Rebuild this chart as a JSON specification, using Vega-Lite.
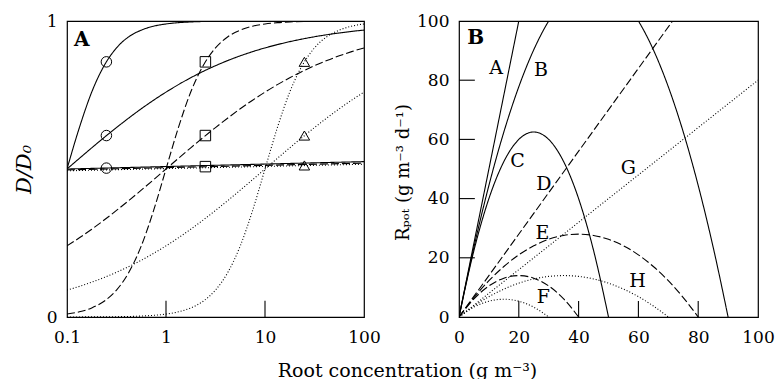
{
  "$schema": "https://vega.github.io/schema/vega-lite/v6.json",
  "padding": {"left": 12, "top": 11, "right": 0, "bottom": 0},
  "background": "white",
  "config": {
    "font": "DejaVu Serif",
    "view": {"stroke": "black", "strokeWidth": 1.2},
    "axis": {"grid": false, "domain": false, "ticks": false, "labelFont": "DejaVu Serif", "labelFontSize": 17, "labelColor": "black", "titleFont": "DejaVu Serif", "titleFontWeight": "normal", "titleColor": "black", "labelFlush": false, "labelOverlap": false},
    "axisX": {"labelPadding": 12},
    "axisY": {"labelPadding": 10}
  },
  "datasets": {
    "la": [
      {"x":0.1,"y":0.5,"c":"a2","s":"solid"},{"x":0.1334,"y":0.64,"c":"a2","s":"solid"},{"x":0.1778,"y":0.76,"c":"a2","s":"solid"},{"x":0.2371,"y":0.849,"c":"a2","s":"solid"},{"x":0.3162,"y":0.909,"c":"a2","s":"solid"},{"x":0.4217,"y":0.947,"c":"a2","s":"solid"},{"x":0.5623,"y":0.969,"c":"a2","s":"solid"},{"x":0.7499,"y":0.9825,"c":"a2","s":"solid"},{"x":1,"y":0.99,"c":"a2","s":"solid"},{"x":1.334,"y":0.9944,"c":"a2","s":"solid"},{"x":1.778,"y":0.9968,"c":"a2","s":"solid"},{"x":3.162,"y":0.999,"c":"a2","s":"solid"},{"x":10,"y":1,"c":"a2","s":"solid"},{"x":100,"y":1,"c":"a2","s":"solid"},
      {"x":0.1,"y":0.5,"c":"a05","s":"solid"},{"x":0.1334,"y":0.536,"c":"a05","s":"solid"},{"x":0.1778,"y":0.5715,"c":"a05","s":"solid"},{"x":0.2371,"y":0.6063,"c":"a05","s":"solid"},{"x":0.3162,"y":0.64,"c":"a05","s":"solid"},{"x":0.4217,"y":0.6725,"c":"a05","s":"solid"},{"x":0.5623,"y":0.7034,"c":"a05","s":"solid"},{"x":0.7499,"y":0.7325,"c":"a05","s":"solid"},{"x":1,"y":0.7597,"c":"a05","s":"solid"},{"x":1.334,"y":0.785,"c":"a05","s":"solid"},{"x":1.778,"y":0.8083,"c":"a05","s":"solid"},{"x":2.371,"y":0.8296,"c":"a05","s":"solid"},{"x":3.162,"y":0.849,"c":"a05","s":"solid"},{"x":4.217,"y":0.8666,"c":"a05","s":"solid"},{"x":5.623,"y":0.8823,"c":"a05","s":"solid"},{"x":7.499,"y":0.8965,"c":"a05","s":"solid"},{"x":10,"y":0.9091,"c":"a05","s":"solid"},{"x":13.34,"y":0.9203,"c":"a05","s":"solid"},{"x":17.78,"y":0.9302,"c":"a05","s":"solid"},{"x":23.71,"y":0.939,"c":"a05","s":"solid"},{"x":31.62,"y":0.9468,"c":"a05","s":"solid"},{"x":42.17,"y":0.9536,"c":"a05","s":"solid"},{"x":56.23,"y":0.9595,"c":"a05","s":"solid"},{"x":74.99,"y":0.9648,"c":"a05","s":"solid"},{"x":100,"y":0.9693,"c":"a05","s":"solid"},
      {"x":0.1,"y":0.5,"c":"a0","s":"solid"},{"x":100,"y":0.525,"c":"a0","s":"solid"},
      {"x":0.1,"y":0.0099,"c":"b2","s":"dashed"},{"x":0.1334,"y":0.0175,"c":"b2","s":"dashed"},{"x":0.1778,"y":0.0307,"c":"b2","s":"dashed"},{"x":0.2371,"y":0.0532,"c":"b2","s":"dashed"},{"x":0.3162,"y":0.0909,"c":"b2","s":"dashed"},{"x":0.4217,"y":0.151,"c":"b2","s":"dashed"},{"x":0.5623,"y":0.24,"c":"b2","s":"dashed"},{"x":0.7499,"y":0.36,"c":"b2","s":"dashed"},{"x":1,"y":0.5,"c":"b2","s":"dashed"},{"x":1.334,"y":0.64,"c":"b2","s":"dashed"},{"x":1.778,"y":0.76,"c":"b2","s":"dashed"},{"x":2.371,"y":0.849,"c":"b2","s":"dashed"},{"x":3.162,"y":0.909,"c":"b2","s":"dashed"},{"x":4.217,"y":0.947,"c":"b2","s":"dashed"},{"x":5.623,"y":0.969,"c":"b2","s":"dashed"},{"x":7.499,"y":0.9825,"c":"b2","s":"dashed"},{"x":10,"y":0.99,"c":"b2","s":"dashed"},{"x":13.34,"y":0.9944,"c":"b2","s":"dashed"},{"x":17.78,"y":0.9968,"c":"b2","s":"dashed"},{"x":31.62,"y":0.999,"c":"b2","s":"dashed"},{"x":100,"y":1,"c":"b2","s":"dashed"},
      {"x":0.1,"y":0.2403,"c":"b05","s":"dashed"},{"x":0.1334,"y":0.2675,"c":"b05","s":"dashed"},{"x":0.1778,"y":0.2966,"c":"b05","s":"dashed"},{"x":0.2371,"y":0.3275,"c":"b05","s":"dashed"},{"x":0.3162,"y":0.36,"c":"b05","s":"dashed"},{"x":0.4217,"y":0.3937,"c":"b05","s":"dashed"},{"x":0.5623,"y":0.4285,"c":"b05","s":"dashed"},{"x":0.7499,"y":0.464,"c":"b05","s":"dashed"},{"x":1,"y":0.5,"c":"b05","s":"dashed"},{"x":1.334,"y":0.536,"c":"b05","s":"dashed"},{"x":1.778,"y":0.5715,"c":"b05","s":"dashed"},{"x":2.371,"y":0.6063,"c":"b05","s":"dashed"},{"x":3.162,"y":0.64,"c":"b05","s":"dashed"},{"x":4.217,"y":0.6725,"c":"b05","s":"dashed"},{"x":5.623,"y":0.7034,"c":"b05","s":"dashed"},{"x":7.499,"y":0.7325,"c":"b05","s":"dashed"},{"x":10,"y":0.7597,"c":"b05","s":"dashed"},{"x":13.34,"y":0.785,"c":"b05","s":"dashed"},{"x":17.78,"y":0.8083,"c":"b05","s":"dashed"},{"x":23.71,"y":0.8296,"c":"b05","s":"dashed"},{"x":31.62,"y":0.849,"c":"b05","s":"dashed"},{"x":42.17,"y":0.8666,"c":"b05","s":"dashed"},{"x":56.23,"y":0.8823,"c":"b05","s":"dashed"},{"x":74.99,"y":0.8965,"c":"b05","s":"dashed"},{"x":100,"y":0.9091,"c":"b05","s":"dashed"},
      {"x":0.1,"y":0.497,"c":"b0","s":"dashed"},{"x":100,"y":0.52,"c":"b0","s":"dashed"},
      {"x":0.1,"y":0.0001,"c":"c2","s":"dotted"},{"x":0.3162,"y":0.001,"c":"c2","s":"dotted"},{"x":0.5623,"y":0.0032,"c":"c2","s":"dotted"},{"x":0.7499,"y":0.0056,"c":"c2","s":"dotted"},{"x":1,"y":0.0099,"c":"c2","s":"dotted"},{"x":1.334,"y":0.0175,"c":"c2","s":"dotted"},{"x":1.778,"y":0.0307,"c":"c2","s":"dotted"},{"x":2.371,"y":0.0532,"c":"c2","s":"dotted"},{"x":3.162,"y":0.0909,"c":"c2","s":"dotted"},{"x":4.217,"y":0.151,"c":"c2","s":"dotted"},{"x":5.623,"y":0.24,"c":"c2","s":"dotted"},{"x":7.499,"y":0.36,"c":"c2","s":"dotted"},{"x":10,"y":0.5,"c":"c2","s":"dotted"},{"x":13.34,"y":0.64,"c":"c2","s":"dotted"},{"x":17.78,"y":0.76,"c":"c2","s":"dotted"},{"x":23.71,"y":0.849,"c":"c2","s":"dotted"},{"x":31.62,"y":0.909,"c":"c2","s":"dotted"},{"x":42.17,"y":0.947,"c":"c2","s":"dotted"},{"x":56.23,"y":0.969,"c":"c2","s":"dotted"},{"x":74.99,"y":0.9825,"c":"c2","s":"dotted"},{"x":100,"y":0.99,"c":"c2","s":"dotted"},
      {"x":0.1,"y":0.0909,"c":"c05","s":"dotted"},{"x":0.1334,"y":0.1035,"c":"c05","s":"dotted"},{"x":0.1778,"y":0.1177,"c":"c05","s":"dotted"},{"x":0.2371,"y":0.1334,"c":"c05","s":"dotted"},{"x":0.3162,"y":0.151,"c":"c05","s":"dotted"},{"x":0.4217,"y":0.1704,"c":"c05","s":"dotted"},{"x":0.5623,"y":0.1917,"c":"c05","s":"dotted"},{"x":0.7499,"y":0.215,"c":"c05","s":"dotted"},{"x":1,"y":0.2403,"c":"c05","s":"dotted"},{"x":1.334,"y":0.2675,"c":"c05","s":"dotted"},{"x":1.778,"y":0.2966,"c":"c05","s":"dotted"},{"x":2.371,"y":0.3275,"c":"c05","s":"dotted"},{"x":3.162,"y":0.36,"c":"c05","s":"dotted"},{"x":4.217,"y":0.3937,"c":"c05","s":"dotted"},{"x":5.623,"y":0.4285,"c":"c05","s":"dotted"},{"x":7.499,"y":0.464,"c":"c05","s":"dotted"},{"x":10,"y":0.5,"c":"c05","s":"dotted"},{"x":13.34,"y":0.536,"c":"c05","s":"dotted"},{"x":17.78,"y":0.5715,"c":"c05","s":"dotted"},{"x":23.71,"y":0.6063,"c":"c05","s":"dotted"},{"x":31.62,"y":0.64,"c":"c05","s":"dotted"},{"x":42.17,"y":0.6725,"c":"c05","s":"dotted"},{"x":56.23,"y":0.7034,"c":"c05","s":"dotted"},{"x":74.99,"y":0.7325,"c":"c05","s":"dotted"},{"x":100,"y":0.7597,"c":"c05","s":"dotted"},
      {"x":0.1,"y":0.494,"c":"c0","s":"dotted"},{"x":100,"y":0.516,"c":"c0","s":"dotted"}
    ],
    "ma": [
      {"x":0.25,"y":0.862,"m":"o"},{"x":0.25,"y":0.613,"m":"o"},{"x":0.25,"y":0.503,"m":"o"},
      {"x":2.5,"y":0.862,"m":"s"},{"x":2.5,"y":0.613,"m":"s"},{"x":2.5,"y":0.508,"m":"s"},
      {"x":25,"y":0.862,"m":"t"},{"x":25,"y":0.613,"m":"t"},{"x":25,"y":0.512,"m":"t"}
    ],
    "lb": [
      {"x":0,"y":0,"c":"A","s":"solid"},{"x":21,"y":105,"c":"A","s":"solid"},
      {"x":0,"y":0,"c":"B","s":"solid"},{"x":5,"y":23.61,"c":"B","s":"solid"},{"x":10,"y":44.44,"c":"B","s":"solid"},{"x":15,"y":62.5,"c":"B","s":"solid"},{"x":20,"y":77.78,"c":"B","s":"solid"},{"x":25,"y":90.28,"c":"B","s":"solid"},{"x":30,"y":100,"c":"B","s":"solid"},{"x":35,"y":106.9,"c":"B","s":"solid"},{"x":45,"y":112.5,"c":"B","s":"solid"},{"x":55,"y":106.9,"c":"B","s":"solid"},{"x":60,"y":100,"c":"B","s":"solid"},{"x":65,"y":90.28,"c":"B","s":"solid"},{"x":70,"y":77.78,"c":"B","s":"solid"},{"x":75,"y":62.5,"c":"B","s":"solid"},{"x":80,"y":44.44,"c":"B","s":"solid"},{"x":85,"y":23.61,"c":"B","s":"solid"},{"x":90,"y":0,"c":"B","s":"solid"},
      {"x":0,"y":0,"c":"C","s":"solid"},{"x":5,"y":22.5,"c":"C","s":"solid"},{"x":10,"y":40,"c":"C","s":"solid"},{"x":15,"y":52.5,"c":"C","s":"solid"},{"x":20,"y":60,"c":"C","s":"solid"},{"x":25,"y":62.5,"c":"C","s":"solid"},{"x":30,"y":60,"c":"C","s":"solid"},{"x":35,"y":52.5,"c":"C","s":"solid"},{"x":40,"y":40,"c":"C","s":"solid"},{"x":45,"y":22.5,"c":"C","s":"solid"},{"x":50,"y":0,"c":"C","s":"solid"},
      {"x":0,"y":0,"c":"D","s":"dashed"},{"x":75,"y":105,"c":"D","s":"dashed"},
      {"x":0,"y":0,"c":"E","s":"dashed"},{"x":5,"y":6.5625,"c":"E","s":"dashed"},{"x":10,"y":12.25,"c":"E","s":"dashed"},{"x":15,"y":17.06,"c":"E","s":"dashed"},{"x":20,"y":21,"c":"E","s":"dashed"},{"x":25,"y":24.06,"c":"E","s":"dashed"},{"x":30,"y":26.25,"c":"E","s":"dashed"},{"x":35,"y":27.56,"c":"E","s":"dashed"},{"x":40,"y":28,"c":"E","s":"dashed"},{"x":45,"y":27.56,"c":"E","s":"dashed"},{"x":50,"y":26.25,"c":"E","s":"dashed"},{"x":55,"y":24.06,"c":"E","s":"dashed"},{"x":60,"y":21,"c":"E","s":"dashed"},{"x":65,"y":17.06,"c":"E","s":"dashed"},{"x":70,"y":12.25,"c":"E","s":"dashed"},{"x":75,"y":6.5625,"c":"E","s":"dashed"},{"x":80,"y":0,"c":"E","s":"dashed"},
      {"x":0,"y":0,"c":"F","s":"dashed"},{"x":5,"y":6.125,"c":"F","s":"dashed"},{"x":10,"y":10.5,"c":"F","s":"dashed"},{"x":15,"y":13.125,"c":"F","s":"dashed"},{"x":20,"y":14,"c":"F","s":"dashed"},{"x":25,"y":13.125,"c":"F","s":"dashed"},{"x":30,"y":10.5,"c":"F","s":"dashed"},{"x":35,"y":6.125,"c":"F","s":"dashed"},{"x":40,"y":0,"c":"F","s":"dashed"},
      {"x":0,"y":0,"c":"G","s":"dotted"},{"x":100,"y":80,"c":"G","s":"dotted"},
      {"x":0,"y":0,"c":"H","s":"dotted"},{"x":5,"y":3.714,"c":"H","s":"dotted"},{"x":10,"y":6.857,"c":"H","s":"dotted"},{"x":15,"y":9.429,"c":"H","s":"dotted"},{"x":20,"y":11.43,"c":"H","s":"dotted"},{"x":25,"y":12.86,"c":"H","s":"dotted"},{"x":30,"y":13.71,"c":"H","s":"dotted"},{"x":35,"y":14,"c":"H","s":"dotted"},{"x":40,"y":13.71,"c":"H","s":"dotted"},{"x":45,"y":12.86,"c":"H","s":"dotted"},{"x":50,"y":11.43,"c":"H","s":"dotted"},{"x":55,"y":9.429,"c":"H","s":"dotted"},{"x":60,"y":6.857,"c":"H","s":"dotted"},{"x":65,"y":3.714,"c":"H","s":"dotted"},{"x":70,"y":0,"c":"H","s":"dotted"},
      {"x":0,"y":0,"c":"I","s":"dotted"},{"x":5,"y":3.333,"c":"I","s":"dotted"},{"x":10,"y":5.333,"c":"I","s":"dotted"},{"x":15,"y":6,"c":"I","s":"dotted"},{"x":20,"y":5.333,"c":"I","s":"dotted"},{"x":25,"y":3.333,"c":"I","s":"dotted"},{"x":30,"y":0,"c":"I","s":"dotted"}
    ],
    "tb": [
      {"x":12.4,"y":84,"t":"A"},{"x":27.4,"y":83.6,"t":"B"},{"x":19.6,"y":52.7,"t":"C"},{"x":28.4,"y":45.1,"t":"D"},
      {"x":27.9,"y":28.5,"t":"E"},{"x":28.2,"y":6.8,"t":"F"},{"x":56.6,"y":50.4,"t":"G"},{"x":59.7,"y":12.3,"t":"H"}
    ],
    "tickb": [{"v": 20}, {"v": 40}, {"v": 60}, {"v": 80}]
  },
  "bounds": "flush",
  "spacing": 95,
  "hconcat": [
    {
      "width": 297, "height": 296,
      "layer": [
        {
          "data": {"name": "la"},
          "mark": {"type": "line", "interpolate": "monotone", "strokeWidth": 1.1, "color": "black", "clip": true},
          "encoding": {
            "x": {"field": "x", "type": "quantitative", "scale": {"type": "log", "domain": [0.1, 100], "nice": false},
              "axis": {"values": [0.1, 1, 10, 100], "format": "~g", "title": "Root concentration (g m⁻³)", "titleX": 340, "titleY": 59, "titleAlign": "center", "titleBaseline": "alphabetic", "titleFontSize": 19, "titleAnchor": null}},
            "y": {"field": "y", "type": "quantitative", "scale": {"domain": [0, 1], "nice": false},
              "axis": {"values": [0, 1], "format": "d", "title": "D/D₀", "titleFontStyle": "italic", "titleFontSize": 21, "titleX": -37, "titleY": 148, "titleAlign": "center", "titleBaseline": "alphabetic", "titleAngle": -90}},
            "detail": {"field": "c"},
            "strokeDash": {"field": "s", "type": "nominal", "scale": {"domain": ["solid", "dashed", "dotted"], "range": [[1, 0], [8, 3], [1, 2]]}, "legend": null}
          }
        },
        {
          "data": {"values": [{"v": 1}, {"v": 10}]},
          "mark": {"type": "rule", "color": "black", "strokeWidth": 1.1},
          "encoding": {
            "x": {"field": "v", "type": "quantitative"},
            "y": {"datum": 0},
            "y2": {"datum": 0.055}
          }
        },
        {
          "data": {"name": "ma"},
          "mark": {"type": "point", "filled": false, "stroke": "black", "strokeWidth": 1, "size": 110, "opacity": 1},
          "encoding": {
            "x": {"field": "x", "type": "quantitative"},
            "y": {"field": "y", "type": "quantitative"},
            "shape": {"field": "m", "type": "nominal", "scale": {"domain": ["o", "s", "t"], "range": ["circle", "square", "triangle-up"]}, "legend": null}
          }
        },
        {
          "data": {"values": [{"x": 0.1177, "y": 0.9155, "t": "A"}]},
          "mark": {"type": "text", "align": "left", "baseline": "alphabetic", "fontWeight": "bold", "fontSize": 20, "color": "black", "font": "DejaVu Serif"},
          "encoding": {
            "x": {"field": "x", "type": "quantitative"},
            "y": {"field": "y", "type": "quantitative"},
            "text": {"field": "t"}
          }
        }
      ]
    },
    {
      "width": 299, "height": 296,
      "layer": [
        {
          "data": {"name": "lb"},
          "mark": {"type": "line", "interpolate": "monotone", "strokeWidth": 1.1, "color": "black", "clip": true},
          "encoding": {
            "x": {"field": "x", "type": "quantitative", "scale": {"domain": [0, 100], "nice": false},
              "axis": {"values": [0, 20, 40, 60, 80, 100], "title": null}},
            "y": {"field": "y", "type": "quantitative", "scale": {"domain": [0, 100], "nice": false},
              "axis": {"values": [0, 20, 40, 60, 80, 100], "title": "Rₚₒₜ (g m⁻³ d⁻¹)", "titleFontSize": 18, "titleX": -51, "titleY": 151, "titleAlign": "center", "titleBaseline": "alphabetic", "titleAngle": -90}},
            "detail": {"field": "c"},
            "strokeDash": {"field": "s", "type": "nominal", "scale": {"domain": ["solid", "dashed", "dotted"], "range": [[1, 0], [8, 3], [1, 2]]}, "legend": null}
          }
        },
        {
          "data": {"name": "tickb"},
          "mark": {"type": "rule", "color": "black", "strokeWidth": 1.1},
          "encoding": {
            "x": {"field": "v", "type": "quantitative"},
            "y": {"datum": 0},
            "y2": {"datum": 5.4}
          }
        },
        {
          "data": {"name": "tickb"},
          "mark": {"type": "rule", "color": "black", "strokeWidth": 1.1},
          "encoding": {
            "y": {"field": "v", "type": "quantitative"},
            "x": {"datum": 0},
            "x2": {"datum": 5.3}
          }
        },
        {
          "data": {"name": "tb"},
          "mark": {"type": "text", "align": "center", "baseline": "middle", "fontSize": 19, "color": "black", "font": "DejaVu Serif"},
          "encoding": {
            "x": {"field": "x", "type": "quantitative"},
            "y": {"field": "y", "type": "quantitative"},
            "text": {"field": "t"}
          }
        },
        {
          "data": {"values": [{"x": 2.8, "y": 92.3, "t": "B"}]},
          "mark": {"type": "text", "align": "left", "baseline": "alphabetic", "fontWeight": "bold", "fontSize": 20, "color": "black", "font": "DejaVu Serif"},
          "encoding": {
            "x": {"field": "x", "type": "quantitative"},
            "y": {"field": "y", "type": "quantitative"},
            "text": {"field": "t"}
          }
        }
      ]
    }
  ]
}
